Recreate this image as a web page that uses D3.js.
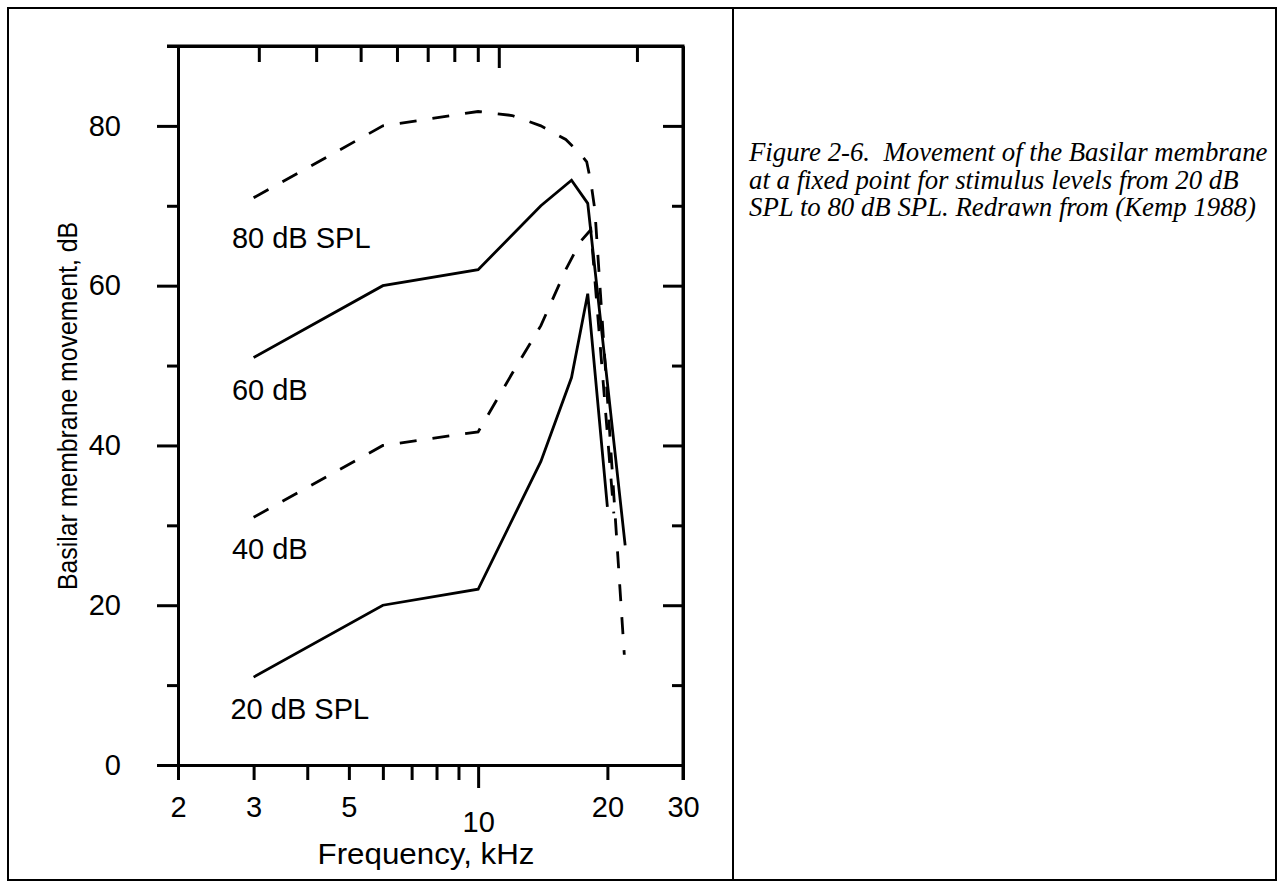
<!DOCTYPE html>
<html>
<head>
<meta charset="utf-8">
<script src="https://cdn.jsdelivr.net/npm/d3@7"></script>
<style>
  body { margin: 0; background: #fff; }
  text { fill: #000; }
</style>
</head>
<body>
<div id="chart"></div>
<script>
// curves: frequency (kHz) and movement (dB)
const freq20 = [3, 6, 10, 14, 16.5, 18, 20];
const mov20 = [11, 20, 22, 38, 48.5, 59, 32.3];
const freq40 = [3, 6, 10, 12, 14, 16, 17.3, 18.3, 20.7];
const mov40 = [31, 40, 41.7, 49, 55, 62, 65.5, 67, 31.5];
const freq60 = [3, 6, 10, 14, 16.5, 18, 22];
const mov60 = [51, 60, 62, 70, 73.2, 70.3, 27.5];
const freq80 = [3, 6, 10, 12, 14, 16, 17.3, 17.9, 18.3, 18.7, 20.2, 21.9];
const mov80 = [71, 80, 81.8, 81.3, 80, 78.3, 76.5, 75.5, 73, 69.5, 42.5, 13.8];

const curveNames = ['20 dB SPL', '40 dB', '60 dB', '80 dB SPL'];
const curveDashed = [false, true, false, true];
const labelFreq = [2.65, 2.67, 2.67, 2.67];
const labelMov = [7, 27, 47, 66];

const xTicks = [2, 3, 4, 5, 6, 7, 8, 9, 10, 20, 30];
const xTickLabels = { 2: '2', 3: '3', 5: '5', 10: '10', 20: '20', 30: '30' };
const topTicks = [3, 4, 5, 6, 7, 8, 9, 10, 20];
const yTicks = [0, 10, 20, 30, 40, 50, 60, 70, 80, 90];
const yTickLabels = { 0: '0', 20: '20', 40: '40', 60: '60', 80: '80' };

const captionLines = [
  'Figure 2-6.\u00a0 Movement of the Basilar membrane',
  'at a fixed point for stimulus levels from 20 dB',
  'SPL to 80 dB SPL. Redrawn from (Kemp 1988)'
];

const width = 1284;
const height = 888;
const plot = { left: 178, right: 683, top: 46, bottom: 765 };

const svg = d3.select('#chart')
  .append('svg')
  .attr('width', width)
  .attr('height', height);

// table frame
svg.append('rect')
  .attr('x', 8).attr('y', 8)
  .attr('width', 1268).attr('height', 872)
  .attr('fill', 'none').attr('stroke', '#000').attr('stroke-width', 2);
svg.append('line')
  .attr('x1', 733).attr('x2', 733).attr('y1', 8).attr('y2', 880)
  .attr('stroke', '#000').attr('stroke-width', 2);

const x = d3.scaleLog().domain([2, 30]).range([plot.left, plot.right]);
// top ticks in the figure are spaced a bit wider than the bottom ones
const xTop = d3.scaleLog().domain([2, 25.2]).range([plot.left, plot.right]);
const y = d3.scaleLinear().domain([0, 90]).range([plot.bottom, plot.top]);

const font = "'Liberation Sans', Arial, sans-serif";

function styleAxis(g) {
  g.select('.domain').attr('stroke-width', 3);
  g.selectAll('.tick line').attr('stroke-width', 3);
  g.selectAll('text')
    .attr('font-family', font)
    .attr('font-size', 29)
    .attr('fill', '#000');
}

// bottom axis
svg.append('g')
  .attr('transform', `translate(0,${plot.bottom})`)
  .call(d3.axisBottom(x).tickValues(xTicks).tickSize(15).tickSizeOuter(0)
    .tickFormat(d => xTickLabels[d] || ''))
  .call(styleAxis)
  .call(g => {
    g.selectAll('.tick').filter(d => d === 10).select('line').attr('y2', 23);
    g.selectAll('.tick text').attr('y', 31)
      .filter(d => d === 10).attr('y', 46);
  });

// top axis, ticks inward
svg.append('g')
  .attr('transform', `translate(0,${plot.top})`)
  .call(d3.axisBottom(xTop).tickValues(topTicks).tickSize(16).tickSizeOuter(0)
    .tickFormat(''))
  .call(styleAxis)
  .call(g => g.selectAll('.tick').filter(d => d === 10).select('line').attr('y2', 22));

// left axis
svg.append('g')
  .attr('transform', `translate(${plot.left},0)`)
  .call(d3.axisLeft(y).tickValues(yTicks).tickSize(21).tickSizeOuter(0)
    .tickFormat(d => yTickLabels[d] || ''))
  .call(styleAxis)
  .call(g => {
    g.selectAll('.tick').filter(d => d % 20 !== 0).select('line').attr('x2', -11);
    g.selectAll('.tick text').attr('x', -57);
  });

// right axis, ticks pointing left into the plot
svg.append('g')
  .attr('transform', `translate(${plot.right},0)`)
  .call(d3.axisLeft(y).tickValues(yTicks.slice(1)).tickSize(20).tickSizeOuter(0)
    .tickFormat(''))
  .call(styleAxis)
  .call(g => g.selectAll('.tick').filter(d => d % 20 !== 0).select('line').attr('x2', -11));

// closing frame lines so corners are square
svg.append('line')
  .attr('x1', plot.left - 11).attr('x2', plot.right + 1.5)
  .attr('y1', plot.top).attr('y2', plot.top)
  .attr('stroke', '#000').attr('stroke-width', 3);
svg.append('line')
  .attr('x1', plot.right).attr('x2', plot.right)
  .attr('y1', plot.top).attr('y2', plot.bottom + 15)
  .attr('stroke', '#000').attr('stroke-width', 3);

const series = [
  d3.zip(freq20, mov20),
  d3.zip(freq40, mov40),
  d3.zip(freq60, mov60),
  d3.zip(freq80, mov80)
];

const line = d3.line()
  .x(d => x(d[0]))
  .y(d => y(d[1]));

svg.append('g')
  .selectAll('path')
  .data(series)
  .join('path')
    .attr('d', line)
    .attr('fill', 'none')
    .attr('stroke', '#000')
    .attr('stroke-width', 2.8)
    .attr('stroke-linejoin', 'miter')
    .attr('stroke-dasharray', (d, i) => curveDashed[i] ? '17,16' : null);

svg.append('g')
  .selectAll('text')
  .data(curveNames)
  .join('text')
    .attr('x', (d, i) => x(labelFreq[i]))
    .attr('y', (d, i) => y(labelMov[i]))
    .attr('dy', '0.35em')
    .attr('font-family', font)
    .attr('font-size', 29)
    .text(d => d);

svg.append('text')
  .attr('x', 426)
  .attr('y', 853)
  .attr('dy', '0.35em')
  .attr('text-anchor', 'middle')
  .attr('font-family', font)
  .attr('font-size', 30)
  .attr('textLength', 217)
  .attr('lengthAdjust', 'spacingAndGlyphs')
  .text('Frequency, kHz');

svg.append('text')
  .attr('transform', 'translate(68,406) rotate(-90)')
  .attr('dy', '0.35em')
  .attr('text-anchor', 'middle')
  .attr('font-family', font)
  .attr('font-size', 27)
  .attr('textLength', 368)
  .attr('lengthAdjust', 'spacingAndGlyphs')
  .text('Basilar membrane movement, dB');

svg.append('g')
  .selectAll('text')
  .data(captionLines)
  .join('text')
    .attr('x', 749)
    .attr('y', (d, i) => 161 + i * 27.5)
    .attr('font-family', "'Liberation Serif', 'Times New Roman', serif")
    .attr('font-style', 'italic')
    .attr('font-size', 26.8)
    .text(d => d);
</script>
</body>
</html>
